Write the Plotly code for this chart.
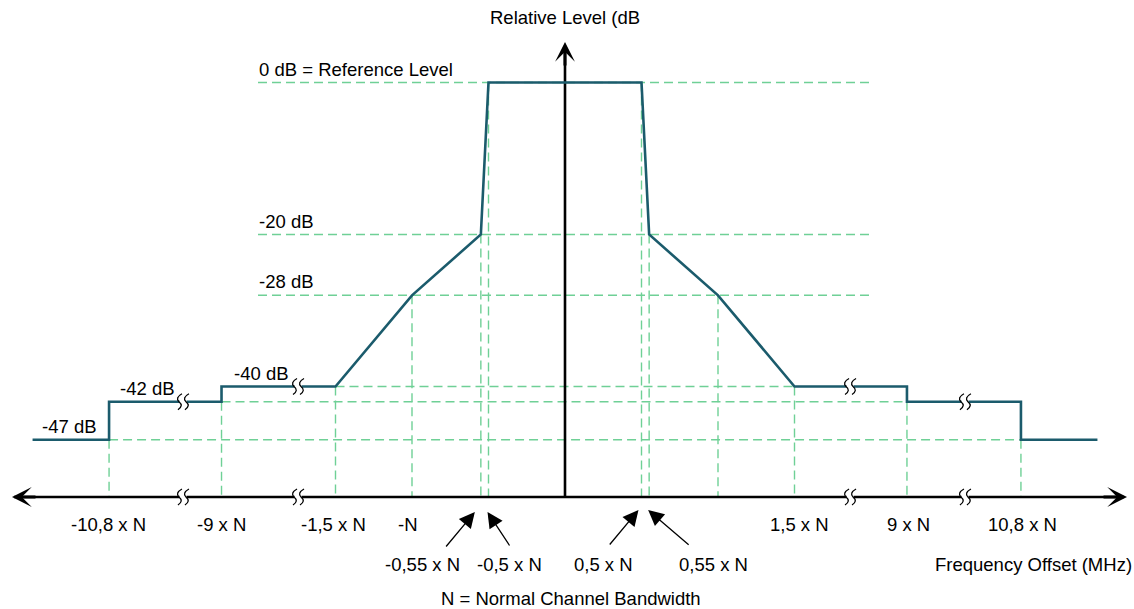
import plotly.graph_objects as go

# ---------------- data ----------------
# spectrum-mask polyline (x = schematic axis position in units of N, broken beyond 1.5 N)
mask_pos = [-3.48, -2.98, -2.98, -2.245, -2.245, -1.5, -1.0, -0.55, -0.5,
            0.5, 0.55, 1.0, 1.5, 2.235, 2.235, 2.98, 2.98, 3.48]
mask_db = [-47, -47, -42, -42, -40, -40, -28, -20, 0,
           0, -20, -28, -40, -40, -42, -42, -47, -47]

# break points of the mask
bp_offset_N = [-10.8, -9, -1.5, -1, -0.55, -0.5, 0.5, 0.55, 1, 1.5, 9, 10.8]
bp_pos = [-2.98, -2.245, -1.5, -1.0, -0.55, -0.5, 0.5, 0.55, 1.0, 1.5, 2.235, 2.98]
bp_level_db = [-47, -42, -40, -28, -20, 0, 0, -20, -28, -40, -42, -47]
bp_labels = ["-10,8 x N", "-9 x N", "-1,5 x N", "-N", "-0,55 x N", "-0,5 x N",
             "0,5 x N", "0,55 x N", "", "1,5 x N", "9 x N", "10,8 x N"]

level_db = [0, -20, -28, -40, -42, -47]
level_labels = ["0 dB = Reference Level", "-20 dB", "-28 dB", "-40 dB", "-42 dB", "-47 dB"]

# axis-break marks (schematic positions)
break_pos = [-2.497, -1.745, 1.863, 2.614]
break_level_db = [-42, -40, -40, -42]

# ---------------- geometry helpers (layout) ----------------
W, H = 1134, 609
X0_PX, SX = 565.0, 153.0       # pixel of 0 offset, pixels per N
Y0_PX, SY = 82.5, 7.6          # pixel of 0 dB, pixels per dB


def xd(px):
    return (px - X0_PX) / SX


def yd(px):
    return (Y0_PX - px) / SY


AXIS_Y = yd(497)
TEAL = "#1b5b6c"
GREEN = "#6fd096"
FONT = "Liberation Sans, Arial, Helvetica, sans-serif"
FS = 18.5

fig = go.Figure()

# green dashed horizontal guides
guide_span = {0: (xd(258), xd(870)), -20: (xd(258), xd(870)), -28: (xd(258), xd(870)),
              -40: (bp_pos[2], bp_pos[9]), -42: (bp_pos[1], bp_pos[10]),
              -47: (bp_pos[0], bp_pos[11])}
for lv in level_db:
    x0, x1 = guide_span[lv]
    fig.add_trace(go.Scatter(x=[x0, x1], y=[lv, lv], mode="lines",
                             line=dict(color=GREEN, width=1.4, dash="9px,5px"),
                             hoverinfo="skip", showlegend=False))

# green dashed vertical guides
for p, lv in zip(bp_pos, bp_level_db):
    fig.add_trace(go.Scatter(x=[p, p], y=[lv, AXIS_Y], mode="lines",
                             line=dict(color=GREEN, width=1.4, dash="9px,5px"),
                             hoverinfo="skip", showlegend=False))

# axes lines
fig.add_trace(go.Scatter(x=[xd(14), xd(1124)], y=[AXIS_Y, AXIS_Y], mode="lines",
                         line=dict(color="black", width=2.6), hoverinfo="skip",
                         showlegend=False))
fig.add_trace(go.Scatter(x=[0, 0], y=[AXIS_Y, yd(46)], mode="lines",
                         line=dict(color="black", width=2.6), hoverinfo="skip",
                         showlegend=False))

# mask
fig.add_trace(go.Scatter(x=mask_pos, y=mask_db, mode="lines",
                         line=dict(color=TEAL, width=2.6), hoverinfo="skip",
                         showlegend=False))

annotations = []
# arrowheads of axes
for (tx, ty, ax, ay) in [(xd(12), AXIS_Y, 25, 0), (xd(1127), AXIS_Y, -25, 0), (0, yd(42), 0, 25)]:
    annotations.append(dict(x=tx, y=ty, xref="x", yref="y", ax=ax, ay=ay, text="",
                            showarrow=True, arrowhead=3, arrowsize=1.1, arrowwidth=3,
                            arrowcolor="black", standoff=0))

# level labels
label_left_px = [257, 257, 257, 232, 118, 40]
for lv, txt, lpx in zip(level_db, level_labels, label_left_px):
    annotations.append(dict(x=xd(lpx), y=lv, xref="x", yref="y", text=txt,
                            showarrow=False, xanchor="left", yanchor="middle",
                            yshift=13.5, font=dict(family=FONT, size=FS, color="black")))

# offset labels
row1_y = yd(524.5)
row2_y = yd(564)
label_dx_px = {"-10,8 x N": -1, "-9 x N": 0, "-1,5 x N": -2, "-N": -4,
               "1,5 x N": 5, "9 x N": 2, "10,8 x N": 2,
               "-0,55 x N": -58, "-0,5 x N": 21, "0,5 x N": -38, "0,55 x N": 64}
second_row = {"-0,55 x N", "-0,5 x N", "0,5 x N", "0,55 x N"}
for p, txt in zip(bp_pos, bp_labels):
    if not txt:
        continue
    yy = row2_y if txt in second_row else row1_y
    annotations.append(dict(x=p + label_dx_px[txt] / SX, y=yy, xref="x", yref="y",
                            text=txt, showarrow=False, xanchor="center",
                            yanchor="middle",
                            font=dict(family=FONT, size=FS, color="black")))

# pointer arrows for the close-spaced labels
pointer = {"-0,55 x N": (-6, 512, -30, 36), "-0,5 x N": (-1, 512, 23, 35),
           "0,5 x N": (-3, 510, -30, 36), "0,55 x N": (-1, 510, 42, 36)}
for p, txt in zip(bp_pos, bp_labels):
    if txt in pointer:
        dx, tip_y, ax, ay = pointer[txt]
        annotations.append(dict(x=p + dx / SX, y=yd(tip_y), xref="x", yref="y",
                                ax=ax, ay=ay, text="", showarrow=True, arrowhead=2,
                                arrowsize=2.4, arrowwidth=1.3, arrowcolor="black",
                                standoff=0))

# titles
annotations.append(dict(x=0, y=yd(17), xref="x", yref="y", text="Relative Level (dB",
                        showarrow=False, xanchor="center", yanchor="middle",
                        font=dict(family=FONT, size=FS, color="black")))
annotations.append(dict(x=xd(1033), y=row2_y, xref="x", yref="y",
                        text="Frequency Offset (MHz)", showarrow=False,
                        xanchor="center", yanchor="middle",
                        font=dict(family=FONT, size=FS, color="black")))
annotations.append(dict(x=xd(571), y=yd(598), xref="x", yref="y",
                        text="N = Normal Channel Bandwidth", showarrow=False,
                        xanchor="center", yanchor="middle",
                        font=dict(family=FONT, size=FS, color="black")))

# break symbols (pixel-sized paths anchored on data points)
shapes = []
for bx, blv in zip(break_pos, break_level_db):
    for yy in (blv, AXIS_Y):
        shapes.append(dict(type="path", xref="x", yref="y", xsizemode="pixel",
                           ysizemode="pixel", xanchor=bx, yanchor=yy,
                           path="M -3,9 L 4,9 L 3,-9 L -4,-9 Z",
                           fillcolor="white", line=dict(width=0), layer="above"))
        for o in (-4.0, 3.0):
            path = (f"M {o + 3},8 Q {o - 4},4 {o},0 "
                    f"Q {o + 5},-4 {o - 1},-8")
            shapes.append(dict(type="path", xref="x", yref="y", xsizemode="pixel",
                               ysizemode="pixel", xanchor=bx, yanchor=yy,
                               path=path,
                               line=dict(color="black", width=1.3), layer="above"))

fig.update_layout(
    width=W, height=H,
    margin=dict(l=0, r=0, t=0, b=0),
    paper_bgcolor="white", plot_bgcolor="white",
    xaxis=dict(range=[xd(0), xd(W)], visible=False, fixedrange=True),
    yaxis=dict(range=[yd(H), yd(0)], visible=False, fixedrange=True),
    annotations=annotations,
    shapes=shapes,
    showlegend=False,
)

fig.write_html("out.html", config={"displayModeBar": False},
               post_script="document.body.style.margin='0';"
                           "document.body.style.overflow='hidden';")
